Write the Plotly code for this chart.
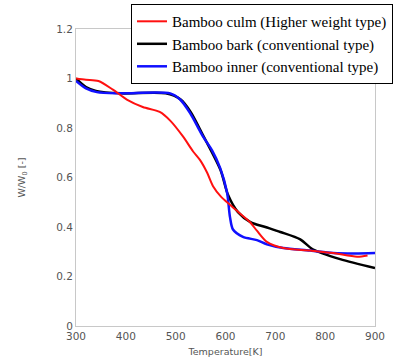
import plotly.graph_objects as go

# Temperature [K] and W/W0 [-]
culm_T = [300, 320, 345, 374, 402, 434, 468, 489, 515, 535, 549, 563, 575, 590, 609, 629, 649, 663, 683, 716, 770, 816, 864, 885]
culm_W = [1.0, 0.995, 0.99, 0.955, 0.915, 0.885, 0.865, 0.83, 0.765, 0.705, 0.67, 0.62, 0.565, 0.525, 0.49, 0.455, 0.42, 0.385, 0.34, 0.315, 0.305, 0.295, 0.28, 0.285]

bark_T = [300, 320, 340, 390, 480, 510, 530, 555, 590, 605, 625, 650, 680, 710, 750, 775, 830, 900]
bark_W = [1.0, 0.965, 0.95, 0.94, 0.94, 0.915, 0.865, 0.77, 0.63, 0.53, 0.46, 0.42, 0.40, 0.38, 0.35, 0.31, 0.27, 0.234]

inner_T = [300, 320, 342, 388, 489, 509, 529, 555, 573, 589, 603, 609, 615, 635, 663, 683, 716, 770, 816, 860, 900]
inner_W = [0.99, 0.96, 0.945, 0.94, 0.94, 0.915, 0.86, 0.765, 0.71, 0.64, 0.54, 0.44, 0.39, 0.36, 0.347, 0.33, 0.315, 0.305, 0.295, 0.293, 0.295]

x_ticks = [300, 400, 500, 600, 700, 800, 900]
y_ticks = [0, 0.2, 0.4, 0.6, 0.8, 1.0, 1.2]
y_tick_text = ["0", "0.2", "0.4", "0.6", "0.8", "1", "1.2"]

fig = go.Figure()
fig.add_trace(go.Scatter(x=bark_T, y=bark_W, mode="lines", name="Bamboo bark (conventional type)",
                         line=dict(color="#000000", width=2.5, shape="spline", smoothing=0.8), legendrank=2))
fig.add_trace(go.Scatter(x=inner_T, y=inner_W, mode="lines", name="Bamboo inner (conventional type)",
                         line=dict(color="#1010ff", width=2.5, shape="spline", smoothing=0.8), legendrank=3))
fig.add_trace(go.Scatter(x=culm_T, y=culm_W, mode="lines", name="Bamboo culm (Higher weight type)",
                         line=dict(color="#ff1010", width=2, shape="spline", smoothing=0.8), legendrank=1))

axis_font = dict(family="DejaVu Sans", size=10.5, color="#555555")
title_font = dict(family="DejaVu Sans", size=9.5, color="#555555")
fig.update_layout(
    width=393, height=363,
    margin=dict(l=76, r=18, t=29, b=37, autoexpand=False),
    paper_bgcolor="white", plot_bgcolor="white",
    showlegend=True,
    legend=dict(x=0.184, y=1.084, xanchor="left", yanchor="top",
                bgcolor="white", bordercolor="black", borderwidth=1,
                font=dict(family="Liberation Serif", size=15, color="black"),
                tracegroupgap=0),
    xaxis=dict(range=[300, 900], tickvals=x_ticks, showgrid=False, zeroline=False,
               showline=True, linecolor="#c8c8c8", linewidth=1, mirror=True,
               ticks="", tickfont=axis_font,
               title=dict(text="Temperature[K]", font=title_font, standoff=7)),
    yaxis=dict(range=[0, 1.2], tickvals=y_ticks, ticktext=y_tick_text, showgrid=False, zeroline=False,
               showline=True, linecolor="#c8c8c8", linewidth=1, mirror=True,
               ticks="", tickfont=axis_font,
               title=dict(text="W/W<sub>0</sub> [-]", font=title_font, standoff=28)),
)

fig.write_html("out.html", config={"displayModeBar": False},
               post_script="document.body.style.margin='0px';")
